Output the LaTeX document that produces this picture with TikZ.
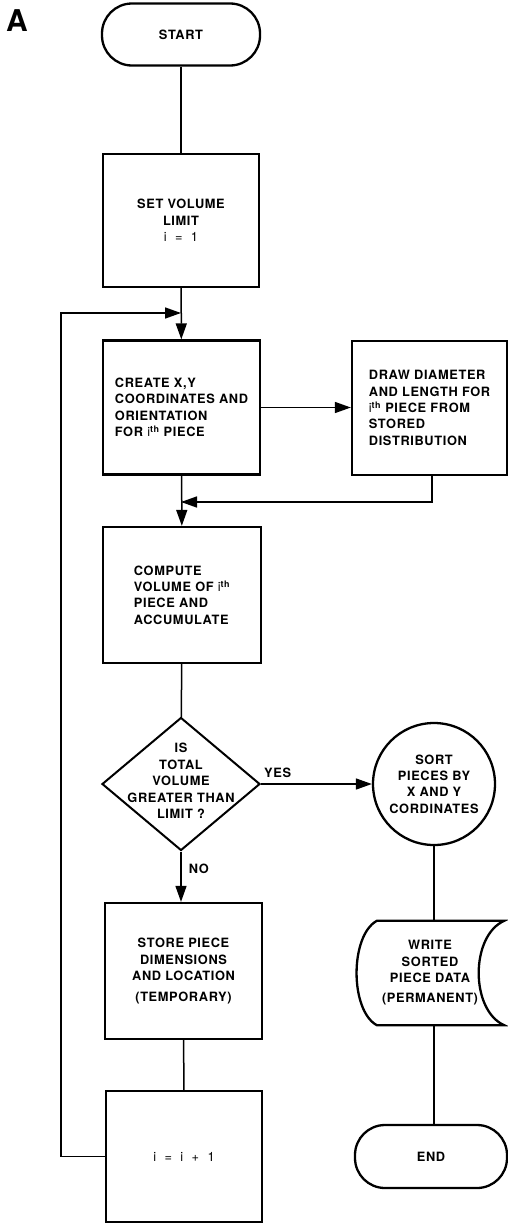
\documentclass[tikz,border=0pt]{standalone}
\usepackage{fontspec}
\newfontfamily\flowfont[LetterSpace=5]{TeX Gyre Heros}
\newfontfamily\panelfont{TeX Gyre Heros}
\usetikzlibrary{arrows.meta,shapes.geometric,calc}
\newcommand\flowsize{\fontsize{12.8}{16.4}\selectfont}
\tikzset{
	flowbox/.style={
		draw,
		line width=2.3pt,
		align=center,
		inner sep=0pt,
		font=\flowfont\bfseries\flowsize
	},
	flowStep/.style={flowbox, rectangle, minimum width=157pt, minimum height=134pt},
	flowTerm/.style={flowbox, rectangle, rounded corners=30pt, minimum width=158pt, minimum height=62pt},
	flowTest/.style={draw, line width=2pt, diamond, minimum width=158pt, minimum height=133pt, inner sep=0pt},
	flowSort/.style={flowbox, circle, minimum size=122pt},
	flowText/.style={align=center, inner sep=0pt, font=\flowfont\bfseries\flowsize},
	flowLine/.style={line width=1.5pt},
	flowArrow/.style={flowLine, -{Triangle[length=16pt,width=11pt]}},
	flowTag/.style={inner sep=0pt, font=\flowfont\bfseries\flowsize}
}

\begin{document}
\begin{tikzpicture}[x=1pt, y=-1pt]
			\useasboundingbox (0,0) rectangle (508,1226);

			\node[font=\panelfont\bfseries\fontsize{30}{30}\selectfont, inner sep=0pt] (panel) at (17,21) {A};

			% Main column
			\node[flowTerm] (start) at (181,34.5) {START};
			\node[flowStep, minimum width=156pt, minimum height=133pt] (setlimit) at (181,220.5)
			{SET VOLUME\\LIMIT\\{\mdseries i\ \ =\ \ 1}};
			\node[flowStep, align=left] (create) at (181.5,407.5)
			{CREATE X,Y\\COORDINATES AND\\ORIENTATION\\FOR {\mdseries i}\textsuperscript{th} PIECE};
			\node[flowStep, align=left, minimum width=155pt] (draw) at (429.5,408)
			{DRAW DIAMETER\\AND LENGTH FOR\\{\mdseries i}\textsuperscript{th} PIECE FROM\\STORED\\DISTRIBUTION};
			\node[flowStep, align=left, minimum width=158pt, minimum height=136pt] (compute) at (182,595)
			{COMPUTE\\VOLUME OF {\mdseries i}\textsuperscript{th}\\PIECE AND\\ACCUMULATE};

			\node[flowTest] (test) at (181,784) {};
			\node[flowText] (testtext) at (181,781)
			{IS\\TOTAL\\VOLUME\\GREATER THAN\\LIMIT ?};

			\node[flowStep, minimum height=136pt] (store) at (183.5,971)
			{STORE PIECE\\DIMENSIONS\\AND LOCATION\\[4pt](TEMPORARY)};
			\node[flowStep, minimum width=156pt, minimum height=131pt] (incr) at (184,1156.5)
			{\mdseries i\ \ =\ \ i\ \ +\ \ 1};

			% Output column
			\node[flowSort] (sort) at (434,784)
			{SORT\\PIECES BY\\X AND Y\\CORDINATES};
			\node[flowText, minimum width=148pt, minimum height=104pt] (write) at (430,973)
			{WRITE\\SORTED\\PIECE DATA\\[4pt](PERMANENT)};
			\draw[line width=2.3pt]
			($(write.north west)+(21,0)$) -- (write.north east)
			.. controls +(-34,15) and +(-34,-15) .. (write.south east)
			-- ($(write.south west)+(21,0)$)
			.. controls +(-27,-15) and +(-27,15) .. cycle;
			\node[flowTerm, minimum width=152pt, minimum height=63pt] (end) at (431,1156.5) {END};

			% Joins
			\coordinate (loopin) at (181,313);
			\coordinate (join) at (181,502);

			% Flows
			\draw[flowLine] (start) -- (setlimit);
			\draw[flowArrow] (setlimit) -- (create);
			\draw[flowArrow] (create.east) -- (create.east -| draw.west);
			\draw[flowArrow] ($(draw.south)+(2.5,0)$) |- (join);
			\draw[flowArrow] (create) -- (compute);
			\draw[flowLine] (compute) -- (test);
			\draw[flowArrow] (test.east) -- node[flowTag, pos=0.15, above=6pt]{YES} (sort.west);
			\draw[flowArrow] (test.south) -- node[flowTag, pos=0.34, right=7pt]{NO} (store.north -| test.south);
			\draw[flowLine] (store) -- (incr);
			\draw[flowArrow] (incr.west) -- ++(-44,0) |- (loopin);
			\draw[flowLine] (sort) -- (sort.south |- write.north);
			\draw[flowLine] (write.south -| sort.south) -- (end.north -| sort.south);

		\end{tikzpicture}
\end{document}
